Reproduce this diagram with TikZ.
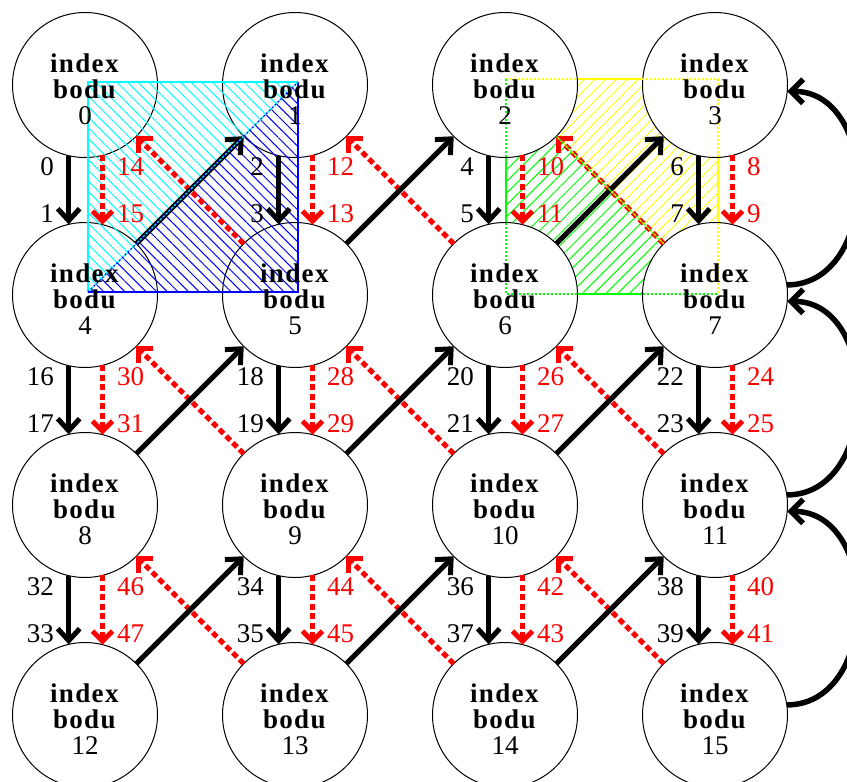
\documentclass[tikz,border=0pt]{standalone}
\usepackage{fontspec}
\setmainfont{Liberation Serif}
\usetikzlibrary{arrows.meta,patterns.meta}
\definecolor{hcyan}{RGB}{0,255,255}
\definecolor{hblue}{RGB}{0,0,255}
\definecolor{hgreen}{RGB}{0,255,0}
\definecolor{hyellow}{RGB}{255,255,0}
\definecolor{hred}{RGB}{255,0,0}
\newcommand\lsp{\addfontfeatures{LetterSpace=5}}
\begin{document}
\begin{tikzpicture}[x=1pt,y=-1pt,
  circ/.style={circle,draw=black,line width=1pt,fill=white,minimum size=145pt,inner sep=0pt,outer sep=0pt},
  ntext/.style={align=center,inner sep=0pt,font=\fontsize{27}{26}\selectfont},
  blab/.style={anchor=east,inner sep=0pt,font=\fontsize{27}{27}\selectfont},
  rlab/.style={anchor=west,inner sep=0pt,text=hred,font=\fontsize{27}{27}\selectfont},
  barrow/.style={line width=5pt,black,-{Straight Barb[length=12pt,width=22pt]}},
  rarrow/.style={line width=5pt,hred,dash pattern=on 6pt off 3.5pt,-{Straight Barb[length=10pt,width=20pt]}},
  curv/.style={line width=5.5pt,black,-{Straight Barb[length=12pt,width=24pt]}},
  cyanhatch/.style={pattern={Lines[angle=-45,distance=7.5pt,line width=1pt]},pattern color=hcyan},
  bluehatch/.style={pattern={Lines[angle=-45,distance=7.5pt,line width=1pt]},pattern color=hblue},
  greenhatch/.style={pattern={Lines[angle=45,distance=8.3pt,line width=1pt]},pattern color=hgreen},
  yellowhatch/.style={pattern={Lines[angle=45,distance=7.6pt,line width=1pt]},pattern color=hyellow},
  dotline/.style={line width=1.2pt,dash pattern=on 2pt off 2pt},
]
\useasboundingbox (0,0) rectangle (847,782);
% right block (under circles)
\coordinate (ra) at (506,79);
\coordinate (rb) at (718,79);
\coordinate (rc) at (718,294);
\coordinate (rd) at (506,294);
\coordinate (rp) at (506,86);
\coordinate (rq) at (714,294);
\fill[yellowhatch] (ra) -- (rb) -- (rc) -- (rq) -- (rp) -- cycle;
\fill[greenhatch] (rp) -- (rq) -- (rd) -- cycle;
\draw[hyellow,line width=1.2pt] (ra) -- (rb) -- (rc);
\draw[hgreen,line width=1.2pt] (ra) -- (rd) -- (rc);
% circles
\foreach \r in {0,...,3}{\foreach \c in {0,...,3}{
  \pgfmathtruncatemacro\ik{4*\r+\c}
  \node[circ] (c\ik) at (85+210*\c,85+210*\r) {};
}}
% left block (over circles)
\coordinate (la) at (88,82);
\coordinate (lb) at (298,82);
\coordinate (lc) at (298,292);
\coordinate (ld) at (88,292);
\fill[cyanhatch] (la) -- (lb) -- (ld) -- cycle;
\fill[bluehatch] (lb) -- (lc) -- (ld) -- cycle;
\draw[hcyan,line width=1.2pt] (ld) -- (la) -- (lb);
\draw[hblue,line width=1.2pt] (lb) -- (lc) -- (ld);
% vertical edges and labels
\foreach \r in {0,1,2}{\foreach \c in {0,...,3}{
  \pgfmathtruncatemacro\ia{4*\r+\c}
  \pgfmathtruncatemacro\ib{4*\r+\c+4}
  \pgfmathtruncatemacro\lbt{16*\r+2*\c}
  \pgfmathtruncatemacro\lbb{16*\r+2*\c+1}
  \pgfmathtruncatemacro\lrt{16*\r+14-2*\c}
  \pgfmathtruncatemacro\lrb{16*\r+15-2*\c}
  \draw[barrow] (c\ia.-103.6) -- (c\ib.103.6);
  \draw[rarrow] (c\ia.-76.4) -- (c\ib.76.4);
  \node[blab] (lab\lbt) at (54+210*\c,167+210*\r) {\lbt};
  \node[blab] (lab\lbb) at (54+210*\c,214+210*\r) {\lbb};
  \node[rlab] (lab\lrt) at (117+210*\c,167+210*\r) {\lrt};
  \node[rlab] (lab\lrb) at (117+210*\c,214+210*\r) {\lrb};
}}
% diagonal edges
\foreach \r in {0,1,2}{\foreach \c in {0,1,2}{
  \pgfmathtruncatemacro\ia{4*(\r+1)+\c}
  \pgfmathtruncatemacro\ib{4*\r+\c+1}
  \pgfmathtruncatemacro\ic{4*(\r+1)+\c+1}
  \pgfmathtruncatemacro\id{4*\r+\c}
  \draw[rarrow] (c\ic.135) -- (c\id.-45);
  \draw[barrow] (c\ia.45) -- (c\ib.-135);
}}
% curved edges on the right
\foreach \r in {0,1,2}{
  \pgfmathtruncatemacro\ia{4*\r+7}
  \pgfmathtruncatemacro\ib{4*\r+3}
  \draw[curv] (c\ia.8) .. controls +(94,0) and +(94,0) .. (c\ib.-5);
}
% dotted overlays
\draw[hblue,dotline] (ld) -- (lb);
\draw[hcyan,dotline,dash phase=2pt] (ld) -- (lb);
\draw[hyellow,dotline] (ra) -- (rb) -- (rc);
\draw[hgreen,dotline] (ra) -- (rd) -- (rc);
\draw[hyellow,dotline] (c7.135) -- (c2.-45);
\draw[hgreen,dotline,dash phase=2pt] (c7.135) -- (c2.-45);
% node texts
\foreach \r in {0,...,3}{\foreach \c in {0,...,3}{
  \pgfmathtruncatemacro\ik{4*\r+\c}
  \node[ntext] (t\ik) at (85+210*\c,89.5+210*\r) {\textbf{\lsp index}\\\textbf{\lsp bodu}\\\ik};
}}
\end{tikzpicture}
\end{document}
